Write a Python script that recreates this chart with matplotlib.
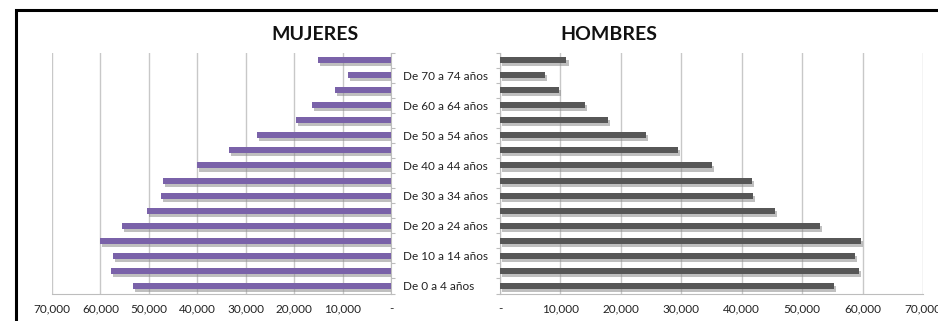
import numpy as np
import matplotlib
matplotlib.use('Agg')
import matplotlib.pyplot as plt
import matplotlib.patheffects as pe
from matplotlib.patches import Rectangle
from matplotlib.ticker import FuncFormatter

plt.rcParams['font.family'] = ['Lato', 'DejaVu Sans']

# grupos de edad, de abajo hacia arriba
grupos = ['De 0 a 4 años', 'De 5 a 9 años', 'De 10 a 14 años', 'De 15 a 19 años',
          'De 20 a 24 años', 'De 25 a 29 años', 'De 30 a 34 años', 'De 35 a 39 años',
          'De 40 a 44 años', 'De 45 a 49 años', 'De 50 a 54 años', 'De 55 a 59 años',
          'De 60 a 64 años', 'De 65 a 69 años', 'De 70 a 74 años', 'De 75 años y más']
mujeres = [53200, 57900, 57400, 60100, 55500, 50300, 47500, 47100,
           40000, 33400, 27700, 19600, 16300, 11600, 8900, 15100]
hombres = [55300, 59400, 58700, 59700, 52900, 45500, 41900, 41700,
           35100, 29400, 24200, 17800, 14000, 9800, 7400, 11000]
ticks_x = [0, 10000, 20000, 30000, 40000, 50000, 60000, 70000]

W, H = 938, 321
fig = plt.figure(figsize=(W / 100, H / 100), dpi=100)

bottom = 1 - 293.5 / H
height = (293.5 - 52.5) / H
ax_m = fig.add_axes([52 / W, bottom, (391 - 52) / W, height])
ax_h = fig.add_axes([500 / W, bottom, (923 - 500) / W, height])

y = np.arange(len(grupos))
sombra = [pe.SimplePatchShadow(offset=(1.5, -2.2), shadow_rgbFace='#8c8c8c', alpha=0.55), pe.Normal()]
fmt = FuncFormatter(lambda v, p: '-' if v == 0 else '{:,.0f}'.format(v))

for ax, vals, color in [(ax_m, mujeres, '#7a62a9'), (ax_h, hombres, '#575757')]:
    bars = ax.barh(y, vals, height=0.4, color=color, zorder=3)
    for b in bars:
        b.set_path_effects(sombra)
    ax.set_xlim(0, 70000)
    ax.set_ylim(-0.5, len(grupos) - 0.5)
    ax.set_xticks(ticks_x)
    ax.xaxis.set_major_formatter(fmt)
    ax.grid(axis='x', color='#c8c8c8', lw=1, zorder=0)
    ax.set_yticks(np.arange(-0.5, len(grupos), 1), minor=False)
    ax.tick_params(axis='x', length=0, labelsize=8.5, colors='#222222', pad=7)
    for s in ax.spines.values():
        s.set_color('#bdbdbd')
    ax.spines['top'].set_visible(False)

ax_m.invert_xaxis()
ax_m.spines['left'].set_visible(False)
ax_m.yaxis.tick_right()
ax_m.set_yticklabels([])
ax_m.set_yticks(y, minor=True)
ax_m.set_yticklabels([g if i % 2 == 0 else '' for i, g in enumerate(grupos)], minor=True)
ax_m.tick_params(axis='y', which='major', length=3, color='#bdbdbd', direction='out')
ax_m.tick_params(axis='y', which='minor', length=0, pad=8.5, labelsize=8.5, colors='#222222')
for lbl in ax_m.get_yticklabels(minor=True):
    lbl.set_horizontalalignment('left')

ax_h.spines['right'].set_visible(False)
ax_h.set_yticklabels([])
ax_h.tick_params(axis='y', which='major', length=3, color='#bdbdbd', direction='out')

fig.text(315 / W, 1 - 34 / H, 'MUJERES', ha='center', va='center', fontsize=14, fontweight='bold', color='#111111')
fig.text(609 / W, 1 - 34 / H, 'HOMBRES', ha='center', va='center', fontsize=14, fontweight='bold', color='#111111')

# marco exterior
fig.patches.append(Rectangle((16 / W, -0.2), 1.2, 1.2 - 10 / H, transform=fig.transFigure,
                             fill=False, lw=2.2, edgecolor='black'))

fig.savefig('out.png', dpi=100)
